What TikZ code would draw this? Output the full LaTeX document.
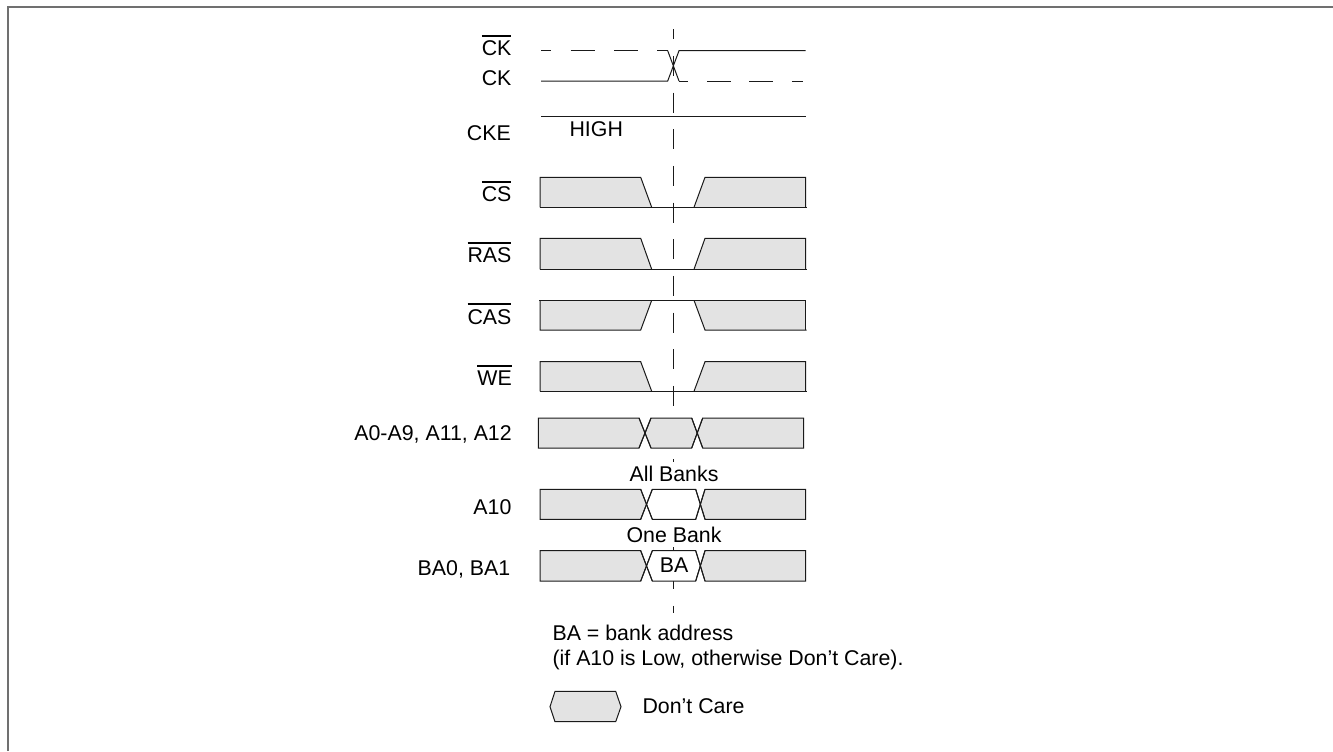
\documentclass[tikz,border=0pt]{standalone}
\usepackage{fontspec}
\setmainfont{Liberation Sans}
\definecolor{dontcare}{HTML}{E3E3E3}
\definecolor{framegray}{HTML}{707070}
\definecolor{wire}{HTML}{1A1A1A}
\newsavebox{\sigbox}
\newcommand{\barsig}[1]{\sbox{\sigbox}{#1}\rlap{\rule[14.4pt]{\wd\sigbox}{1.3pt}}\usebox{\sigbox}}
\tikzset{
  sig/.style={anchor=base east, inner sep=0pt, font=\fontsize{16pt}{19pt}\selectfont},
  txt/.style={anchor=base west, inner sep=0pt, font=\fontsize{16pt}{19pt}\selectfont},
  ctr/.style={anchor=base, inner sep=0pt, font=\fontsize{16pt}{19pt}\selectfont},
  masked/.style={ctr, fill=white, inner ysep=3pt},
  wave/.style={draw=wire, line width=0.75pt},
  care/.style={wave, fill=dontcare}
}
\begin{document}
\begin{tikzpicture}[x=0.75pt, y=-0.75pt, line join=miter]

  \useasboundingbox (0,0) rectangle (1333,751);

  % outer frame
  \draw[framegray, line width=1.5pt] (8,751) -- (8,7) -- (1333,7);

  % reference line
  \coordinate (Rt) at (673.5,29);
  \coordinate (Rb) at (673.5,613);
  \draw[wire, line width=0.75pt, dash pattern=on 15pt off 12.5pt, dash phase=7.3pt] (Rt) -- (Rb);

  % clock
  \draw[wave] (541,81) -- (667.7,81) -- (679,50.7) -- (805.5,50.7);
  \draw[wave] (667.7,50.7) -- (679,81);
  \draw[wave, dash pattern=on 7.5pt off 14.8pt on 18.3pt off 14.3pt on 18pt off 14.3pt on 7.9pt] (541,50.7) -- (667.7,50.7);
  \draw[wave, dash pattern=on 6.8pt off 14.2pt on 18pt off 13.5pt on 18pt off 14.2pt on 8.2pt] (679,81) -- (805,81);
  \draw[wave] (541,116.3) -- (805.5,116.3);

  % command pins, low pulse
  \foreach \yt/\yb in {177.3/207.3, 238.3/269.3, 361.7/391.3} {
    \fill[dontcare] (540,\yt) -- (640.7,\yt) -- (651.7,\yb) -- (540,\yb) -- cycle;
    \fill[dontcare] (805.7,\yt) -- (705,\yt) -- (694,\yb) -- (805.7,\yb) -- cycle;
    \draw[wave] (540,\yb) -- (540,\yt) -- (640.7,\yt) -- (651.7,\yb);
    \draw[wave] (694,\yb) -- (705,\yt) -- (805.7,\yt) -- (805.7,\yb);
    \draw[wave] (540,\yb) -- (806.5,\yb);
  }

  % command pin, high pulse
  \fill[dontcare] (540,330) -- (640.7,330) -- (651.7,300.3) -- (540,300.3) -- cycle;
  \fill[dontcare] (805.7,330) -- (705,330) -- (694,300.3) -- (805.7,300.3) -- cycle;
  \draw[wave] (540,300.3) -- (540,330) -- (640.7,330) -- (651.7,300.3);
  \draw[wave] (694,300.3) -- (705,330) -- (806.5,330);
  \draw[wave] (805.7,330) -- (805.7,300.3);
  \draw[wave] (539,300.3) -- (805.7,300.3);

  % address pins
  \foreach \xa/\xb/\xc/\xd/\xe/\xf/\yt/\yb/\mid in {
      538.3/639/651/691.7/702.7/803.7/418/448/dontcare,
      540/640.7/652.3/695.7/705/805.7/489.3/519.3/white,
      540/640.7/652.3/695.7/705/805.7/550.7/581/white} {
    \path[care] (\xa,\yt) -- (\xb,\yt) -- ({(\xb+\xc)/2},{(\yt+\yb)/2}) -- (\xb,\yb) -- (\xa,\yb) -- cycle;
    \path[wave, fill=\mid] ({(\xb+\xc)/2},{(\yt+\yb)/2}) -- (\xc,\yt) -- (\xd,\yt) -- ({(\xd+\xe)/2},{(\yt+\yb)/2}) -- (\xd,\yb) -- (\xc,\yb) -- cycle;
    \path[care] ({(\xd+\xe)/2},{(\yt+\yb)/2}) -- (\xe,\yt) -- (\xf,\yt) -- (\xf,\yb) -- (\xe,\yb) -- cycle;
    \draw[wave] (\xb,\yt) -- (\xc,\yb);
    \draw[wave] (\xb,\yb) -- (\xc,\yt);
    \draw[wave] (\xd,\yt) -- (\xe,\yb);
    \draw[wave] (\xd,\yb) -- (\xe,\yt);
  }

  % signal names
  \node[sig] (nCKb) at (511.7,55.7) {\barsig{CK}};
  \node[sig] (nCK) at (511.7,85) {CK};
  \node[sig] (nCKE) at (511,140) {CKE};
  \node[sig] (nCS) at (511.7,201.7) {\barsig{CS}};
  \node[sig] (nRAS) at (511.7,262.7) {\barsig{RAS}};
  \node[sig] (nCAS) at (511.7,324) {\barsig{CAS}};
  \node[sig] (nWE) at (512,385.7) {\barsig{WE}};
  \node[sig] (nA) at (512,440) {A0-A9, A11, A12};
  \node[sig] (nAten) at (511.7,514) {A10};
  \node[sig] (nBA) at (510.5,575) {BA0, BA1};

  \node[txt] (nHigh) at (569.3,136.7) {HIGH};
  \node[masked] (nAll) at (674,481.7) {All Banks};
  \node[masked] (nOne) at (674,542.7) {One Bank};
  \node[ctr] (nBank) at (674,572.3) {BA};

  % notes
  \node[txt] (nNotea) at (552.3,640) {BA = bank address};
  \node[txt] (nNoteb) at (552.3,665) {(if A10 is Low, otherwise Don’t Care).};

  % legend
  \draw[care] (550,706.7) -- (555,691.3) -- (615.7,691.3) -- (621,706.7) -- (615.7,721.7) -- (555,721.7) -- cycle;
  \node[txt] (nCare) at (642.3,713.3) {Don’t Care};

\end{tikzpicture}
\end{document}
